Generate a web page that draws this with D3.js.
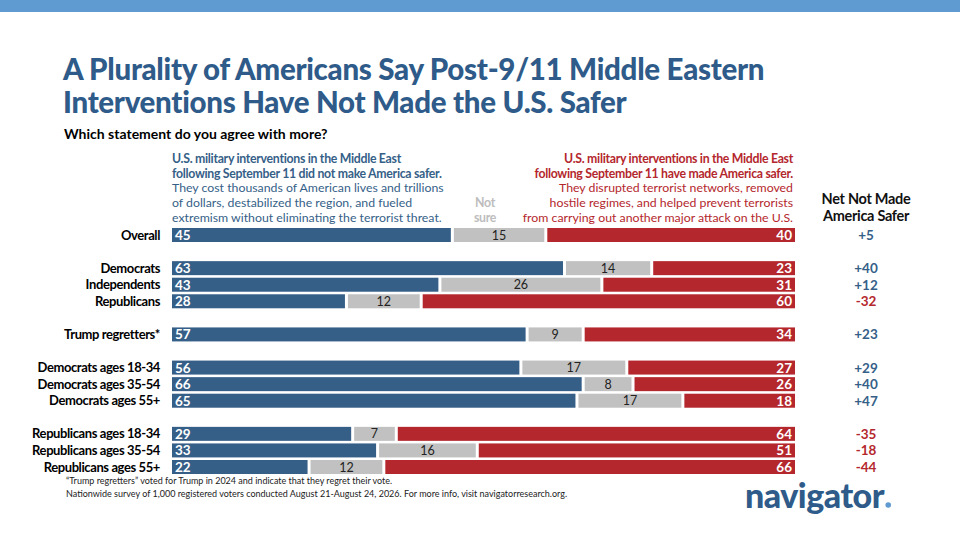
<!DOCTYPE html>
<html><head><meta charset="utf-8">
<script src="https://cdn.jsdelivr.net/npm/d3@7"></script>
<style>body{margin:0;background:#fff;font-family:"Open Sans",Lato,sans-serif}</style>
</head><body><svg id="c" width="960" height="540"></svg>
<script>
const categories=["Overall","Democrats","Independents","Republicans","Trump regretters*","Democrats ages 18-34","Democrats ages 35-54","Democrats ages 55+","Republicans ages 18-34","Republicans ages 35-54","Republicans ages 55+"];
const slots=[0,2,3,4,6,8,9,10,12,13,14];
const notSafer=[45,63,43,28,57,56,66,65,29,33,22];
const notSure=[15,14,26,12,9,17,8,17,7,16,12];
const safer=[40,23,31,60,34,27,26,18,64,51,66];
const net=["+5","+40","+12","-32","+23","+29","+40","+47","-35","-18","-44"];

const BLUE="#365f88",GRAY="#c1c1c1",RED="#b4272d",TITLE="#2e5b89";
const svg=d3.select("#c");
svg.append("rect").attr("x",0).attr("y",0).attr("width",960).attr("height",12).attr("fill","#5f9bd0");
const t=svg.append("text").attr("fill",TITLE).attr("font-family","Lato,sans-serif").attr("font-weight",900).attr("font-size",29.5).attr("letter-spacing",-0.3);
t.append("tspan").attr("x",63).attr("y",80).text("A Plurality of Americans Say Post-9/11 Middle Eastern");
t.append("tspan").attr("x",63).attr("y",113).text("Interventions Have Not Made the U.S. Safer");
svg.append("text").attr("x",64).attr("y",139).attr("font-family","Lato,sans-serif").attr("font-weight",700).attr("font-size",14).text("Which statement do you agree with more?");

const x=d3.scaleLinear().domain([0,100]).range([172,795]);
const y=d3.scaleLinear().domain([0,14]).range([235,467]);
const h=14,gap=1.5;

function lines(xx,yy,arr,anchor,color,weight,size,lh){
  arr.forEach((s,i)=>svg.append("text").attr("x",xx).attr("y",yy+i*(lh||15)).attr("text-anchor",anchor)
    .attr("fill",color).attr("font-family","Lato,sans-serif").attr("font-weight",weight).attr("font-size",size||12.3).attr("letter-spacing",weight>500?-0.3:0).text(s));
}
lines(172,163,["U.S. military interventions in the Middle East","following September 11 did not make America safer."],"start",BLUE,700);
lines(172,192,["They cost thousands of American lives and trillions","of dollars, destabilized the region, and fueled","extremism without eliminating the terrorist threat."],"start",BLUE,400);
lines(793,163,["U.S. military interventions in the Middle East","following September 11 have made America safer."],"end",RED,700);
lines(793,192,["They disrupted terrorist networks, removed","hostile regimes, and helped prevent terrorists","from carrying out another major attack on the U.S."],"end",RED,400);
lines(485,207,["Not","sure"],"middle","#bdbdbd",700);
lines(866,204,["Net Not Made","America Safer"],"middle","#111",700,14.5,17);

const g=svg.append("g");
categories.forEach((c,i)=>{
  const yc=y(slots[i]);
  const a=notSafer[i],b=notSure[i],r=safer[i];
  g.append("text").attr("x",160).attr("y",yc+4.5).attr("text-anchor","end").attr("font-family","Lato,sans-serif").attr("font-weight",700).attr("font-size",13).attr("letter-spacing",-0.4).text(c);
  g.append("rect").attr("x",x(0)).attr("y",yc-h/2).attr("width",x(a)-x(0)-gap).attr("height",h).attr("fill",BLUE);
  g.append("rect").attr("x",x(a)+gap).attr("y",yc-h/2).attr("width",x(a+b)-x(a)-2*gap).attr("height",h).attr("fill",GRAY);
  g.append("rect").attr("x",x(a+b)+gap).attr("y",yc-h/2).attr("width",x(100)-x(a+b)-gap).attr("height",h).attr("fill",RED);
  g.append("text").attr("x",x(0)+3).attr("y",yc+5).attr("fill","#fff").attr("font-family","Lato,sans-serif").attr("font-weight",700).attr("font-size",13.5).text(a);
  g.append("text").attr("x",x(a+b/2)).attr("y",yc+4.5).attr("text-anchor","middle").attr("fill","#222").attr("font-family","Lato,sans-serif").attr("font-size",12.5).text(b);
  g.append("text").attr("x",x(100)-3).attr("y",yc+5).attr("text-anchor","end").attr("fill","#fff").attr("font-family","Lato,sans-serif").attr("font-weight",700).attr("font-size",13.5).text(r);
  g.append("text").attr("x",866).attr("y",yc+5).attr("text-anchor","middle").attr("fill",net[i].startsWith("-")?RED:BLUE).attr("font-family","Lato,sans-serif").attr("font-weight",700).attr("font-size",13.5).text(net[i]);
});
lines(66,484,["\u201cTrump regretters\u201d voted for Trump in 2024 and indicate that they regret their vote."],"start","#222",400,9,13);
lines(66,497,["Nationwide survey of 1,000 registered voters conducted August 21-August 24, 2026. For more info, visit navigatorresearch.org."],"start","#222",400,9,13);
const logo=svg.append("text").attr("x",745).attr("y",508).attr("fill","#2e5b89").attr("font-family","Lato,sans-serif").attr("font-weight",900).attr("font-size",34).attr("letter-spacing",-0.5).text("navigator");
const bb=logo.node().getBBox();
svg.append("circle").attr("cx",bb.x+bb.width+3.5).attr("cy",505).attr("r",2.8).attr("fill","#5f9bd0");
</script></body></html>
